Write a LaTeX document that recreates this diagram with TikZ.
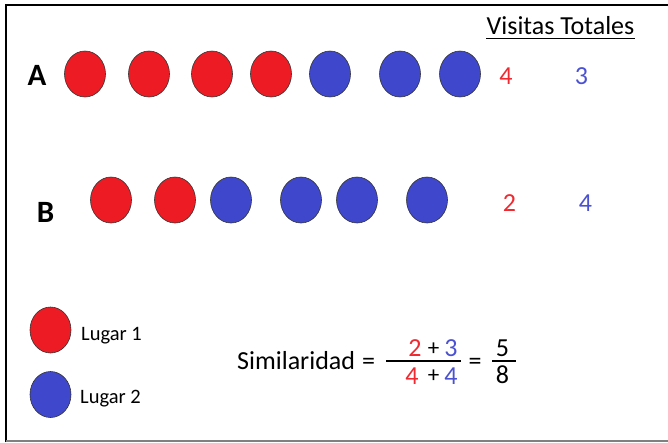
\documentclass[tikz,border=0pt]{standalone}
\usepackage{fontspec}
\setmainfont{Carlito}
\usetikzlibrary{shapes.geometric}
\definecolor{lugarA}{HTML}{ED1C24}
\definecolor{lugarB}{HTML}{3F48CC}
\definecolor{numA}{HTML}{F02A30}
\definecolor{numB}{HTML}{4B52D2}
\tikzset{
  visit/.style={ellipse, draw=black!80, line width=0.6pt, inner sep=0pt,
                minimum width=41pt, minimum height=46pt},
  rojo/.style={visit, fill=lugarA},
  azul/.style={visit, fill=lugarB},
  lbl/.style={inner sep=0pt, anchor=base},
  rowlbl/.style={lbl, font=\fontsize{31}{33}\selectfont\bfseries},
  cnt/.style={lbl, font=\fontsize{26}{28}\selectfont},
  legend/.style={inner sep=0pt, anchor=base west, font=\fontsize{20.5}{22}\selectfont},
  formula/.style={lbl, font=\fontsize{26}{28}\selectfont},
  op/.style={lbl, font=\fontsize{23}{25}\selectfont},
}
\begin{document}
\begin{tikzpicture}[x=1pt,y=-1pt]
\useasboundingbox (0,0) rectangle (668,442);
% frame
\draw[line width=2.6pt] (6,442) -- (6,5) -- (668,5);
\draw[gray, line width=1.2pt] (6,441) -- (668,441);

% heading
\node[cnt] (vt) at (560.5,34) {Visitas Totales};
\draw[line width=1.3pt] ([yshift=-4.5pt]vt.base west) -- ([yshift=-4.5pt]vt.base east);

% sequence A
\node[rowlbl] (la) at (37,85.5) {A};
\node[rojo] (a1) at (85,74) {};
\node[rojo] (a2) at (149,74) {};
\node[rojo] (a3) at (212,74) {};
\node[rojo] (a4) at (271,74) {};
\node[azul] (a5) at (330,74) {};
\node[azul] (a6) at (400,74) {};
\node[azul] (a7) at (460,74) {};
\node[cnt, text=numA] (ca1) at (506,84) {4};
\node[cnt, text=numB] (ca2) at (581.5,84) {3};

% sequence B
\node[rowlbl] (lb) at (45.5,222.5) {B};
\node[rojo] (b1) at (111,200) {};
\node[rojo] (b2) at (175,200) {};
\node[azul] (b3) at (231,200) {};
\node[azul] (b4) at (301,200) {};
\node[azul] (b5) at (357,200) {};
\node[azul] (b6) at (427,200) {};
\node[cnt, text=numA] (cb1) at (509.5,211) {2};
\node[cnt, text=numB] (cb2) at (585.5,211) {4};

% legend
\node[rojo] (k1) at (50.5,330) {};
\node[legend] (t1) at (81,340) {Lugar 1};
\node[azul] (k2) at (50.5,394.5) {};
\node[legend] (t2) at (80,403) {Lugar 2};

% similarity formula
\node[formula, anchor=base west] (sim) at (237,369) {Similaridad};
\node[formula] (eq1) at (368.5,369) {=};
\node[formula, text=numA] (n1) at (415,356) {2};
\node[op] (n2) at (433.5,355) {+};
\node[formula, text=numB] (n3) at (451,356) {3};
\coordinate (f1l) at (386,361);
\coordinate (f1r) at (461,361);
\draw[line width=1.2pt] (f1l) -- (f1r);
\node[formula, text=numA] (d1) at (412,384) {4};
\node[op] (d2) at (433.5,382) {+};
\node[formula, text=numB] (d3) at (451,384) {4};
\node[formula] (eq2) at (475,369) {=};
\node[formula] (r1) at (502.5,356) {5};
\coordinate (f2l) at (492,361);
\coordinate (f2r) at (516,361);
\draw[line width=1.2pt] (f2l) -- (f2r);
\node[formula] (r2) at (502.5,383) {8};
\end{tikzpicture}
\end{document}
